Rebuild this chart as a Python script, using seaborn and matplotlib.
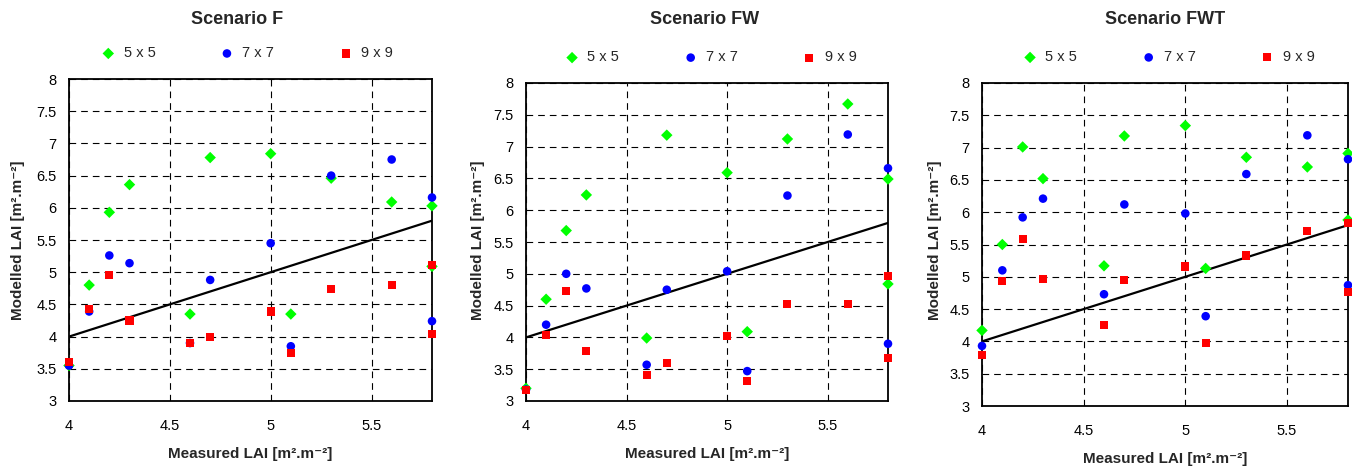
import matplotlib
matplotlib.use("Agg")
import matplotlib.pyplot as plt
import seaborn as sns
import pandas as pd

# Measured LAI (shared by all scenarios)
measured = [4.0, 4.1, 4.2, 4.3, 4.6, 4.7, 5.0, 5.1, 5.3, 5.6, 5.8, 5.8]

# Scenario F
f_5x5 = [3.55, 4.80, 5.93, 6.36, 4.35, 6.78, 6.84, 4.35, 6.46, 6.09, 6.03, 5.09]
f_7x7 = [3.55, 4.39, 5.26, 5.14, 3.90, 4.88, 5.45, 3.85, 6.50, 6.75, 6.16, 4.24]
f_9x9 = [3.60, 4.43, 4.96, 4.25, 3.90, 4.00, 4.39, 3.74, 4.74, 4.80, 5.11, 4.04]

# Scenario FW
fw_5x5 = [3.20, 4.60, 5.68, 6.24, 3.99, 7.18, 6.59, 4.09, 7.12, 7.67, 6.49, 4.84]
fw_7x7 = [3.18, 4.20, 5.00, 4.77, 3.57, 4.75, 5.04, 3.47, 6.23, 7.19, 6.66, 3.90]
fw_9x9 = [3.17, 4.04, 4.73, 3.79, 3.41, 3.60, 4.02, 3.31, 4.53, 4.52, 4.97, 3.68]

# Scenario FWT
fwt_5x5 = [4.17, 5.50, 7.01, 6.52, 5.17, 7.18, 7.34, 5.13, 6.85, 6.70, 6.91, 5.88]
fwt_7x7 = [3.93, 5.10, 5.92, 6.21, 4.73, 6.12, 5.98, 4.39, 6.59, 7.19, 6.82, 4.87]
fwt_9x9 = [3.79, 4.94, 5.59, 4.96, 4.26, 4.95, 5.16, 3.97, 5.33, 5.71, 5.83, 4.77]

scenarios = ["Scenario F", "Scenario FW", "Scenario FWT"]
windows = ["5 x 5", "7 x 7", "9 x 9"]
one_to_one = [4.0, 5.8]
y_ticks = [3, 3.5, 4, 4.5, 5, 5.5, 6, 6.5, 7, 7.5, 8]
x_ticks = [4, 4.5, 5, 5.5]

series = {
    "Scenario F": [f_5x5, f_7x7, f_9x9],
    "Scenario FW": [fw_5x5, fw_7x7, fw_9x9],
    "Scenario FWT": [fwt_5x5, fwt_7x7, fwt_9x9],
}

colors = {"5 x 5": "#00FF00", "7 x 7": "#0000FF", "9 x 9": "#FF0000"}
markers = {"5 x 5": "D", "7 x 7": "o", "9 x 9": "s"}
sizes = {"5 x 5": 34, "7 x 7": 38, "9 x 9": 34}

sns.set_theme(style="white")
plt.rcParams["font.family"] = ["Liberation Sans", "DejaVu Sans"]

fig = plt.figure(figsize=(13.52, 4.68), dpi=100)
W, H = 1352, 468
# axes boxes in pixels: left, top, right, bottom
boxes = [(69, 79, 432, 401), (526, 83, 888, 401), (982, 83, 1348, 406)]
title_x = [237, 705, 1165]
legend_x = [0.48, 0.5, 0.5]
ylabel_x = [18, 478, 935]

for i, name in enumerate(scenarios):
    l, t, r, b = boxes[i]
    ax = fig.add_axes([l / W, (H - b) / H, (r - l) / W, (b - t) / H])

    rows = []
    for w, vals in zip(windows, series[name]):
        for xm, ym in zip(measured, vals):
            rows.append({"Measured": xm, "Modelled": ym, "Window": w})
    df = pd.DataFrame(rows)

    for w in windows:
        sns.scatterplot(data=df[df["Window"] == w], x="Measured", y="Modelled",
                        color=colors[w], marker=markers[w], s=sizes[w],
                        edgecolor="none", linewidth=0, label=w, ax=ax,
                        clip_on=False, zorder=3)

    sns.lineplot(x=one_to_one, y=one_to_one, color="black", linewidth=1.6,
                 ax=ax, zorder=2, legend=False)

    ax.set_xlim(4, 5.8)
    ax.set_ylim(3, 8)
    ax.set_xticks(x_ticks)
    ax.set_yticks(y_ticks)
    ax.set_xticklabels([f"{v:g}" for v in x_ticks])
    ax.set_yticklabels([f"{v:g}" for v in y_ticks])
    ax.tick_params(axis="both", length=0, labelsize=10.5, colors="black")
    ax.tick_params(axis="x", pad=13)
    ax.tick_params(axis="y", pad=9)
    ax.grid(True, color="black", linestyle=(0, (6, 4.5)), linewidth=0.8)
    for sp in ax.spines.values():
        sp.set_color("black")
        sp.set_linewidth(1.3)

    ax.set_xlabel("Measured LAI [m².m⁻²]", fontsize=11, fontweight="bold", labelpad=10)
    ax.set_ylabel("")
    fig.text(ylabel_x[i] / W, 1 - 240 / H, "Modelled LAI [m².m⁻²]", rotation=90,
             ha="center", va="center", fontsize=11, fontweight="bold")
    fig.text(title_x[i] / W, 1 - 20 / H, name, ha="center", va="center",
             fontsize=13, fontweight="bold")

    ax.legend(loc="lower center", bbox_to_anchor=(legend_x[i], 1.04), ncol=3,
              frameon=False, fontsize=10.5, handletextpad=0.05,
              columnspacing=3.9, markerscale=1.0, borderaxespad=0)

fig.savefig("out.png", dpi=100)
